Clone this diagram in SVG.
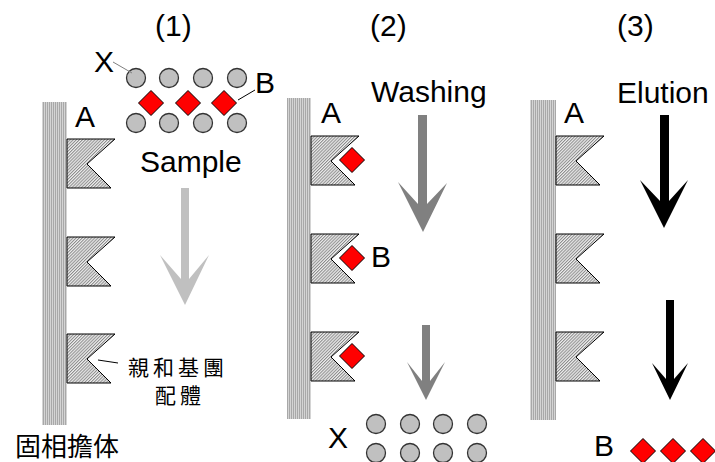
<svg xmlns="http://www.w3.org/2000/svg" width="715" height="462" viewBox="0 0 715 462">
  <defs>
    <!-- vertical stripes of the solid support -->
    <pattern id="stripes" width="2" height="4" patternUnits="userSpaceOnUse">
      <rect width="2" height="4" fill="#d4d4d4"/>
      <rect x="1" width="1" height="4" fill="#a8a8a8"/>
    </pattern>
    <!-- fine diagonal hatch of the ligand flags -->
    <pattern id="hatch" width="2.2" height="2.2" patternUnits="userSpaceOnUse" patternTransform="rotate(45)">
      <rect width="2.2" height="2.2" fill="#eeeeee"/>
      <rect width="1" height="2.2" fill="#8a8a8a"/>
    </pattern>
    <path id="flag" d="M0,0 H48 L20,25 L44,49 H0 Z"/>
    <circle id="bead" r="9.5"/>
    <path id="gem" d="M0,-12.5 L12.5,0 L0,12.5 L-12.5,0 Z"/>
  </defs>
  <style>
    .col { fill: url(#stripes); }
    .flag { fill: url(#hatch); stroke: #000; stroke-width: 1; stroke-linejoin: miter; }
    .bead { fill: #c0c0c0; stroke: #333; stroke-width: 1.3; }
    .gem { fill: #ff0000; stroke: #000; stroke-width: 1; }
    .halo { fill: none; stroke: #fff; stroke-width: 5; }
    .lbl { font-family: "Liberation Sans", Arial, sans-serif; font-size: 30px; fill: #000; }
    .cjk { font-family: "Noto Sans CJK TC", "Noto Sans CJK SC", sans-serif; fill: #000; }
  </style>

  <!-- panel titles -->
  <g id="titles" class="lbl">
    <text x="155" y="36">(1)</text>
    <text x="370" y="36">(2)</text>
    <text x="617" y="36">(3)</text>
  </g>

  <!-- panel 1: sample loading -->
  <g id="support1">
    <rect class="col" x="42" y="102" width="25" height="323"/>
    <text class="cjk" x="15" y="456" font-size="26">固相擔体</text>
  </g>
  <g id="ligands1">
    <use href="#flag" class="flag" x="67" y="139"/>
    <use href="#flag" class="flag" x="67" y="237"/>
    <use href="#flag" class="flag" x="67" y="334"/>
    <text class="lbl" x="75" y="127" font-size="29">A</text>
    <text class="cjk" x="178" y="375" font-size="21" text-anchor="middle" letter-spacing="4">親和基團</text>
    <text class="cjk" x="180" y="403" font-size="21" text-anchor="middle" letter-spacing="4">配體</text>
  </g>
  <g id="sample-mix">
    <use href="#bead" class="bead" x="136" y="78"/>
    <use href="#bead" class="bead" x="169" y="78"/>
    <use href="#bead" class="bead" x="203" y="78"/>
    <use href="#bead" class="bead" x="237" y="78"/>
    <use href="#gem" class="gem" x="151" y="103"/>
    <use href="#gem" class="gem" x="188" y="103"/>
    <use href="#gem" class="gem" x="224" y="103"/>
    <use href="#bead" class="bead" x="136" y="123"/>
    <use href="#bead" class="bead" x="169" y="123"/>
    <use href="#bead" class="bead" x="203" y="123"/>
    <use href="#bead" class="bead" x="237" y="123"/>
    <text class="lbl" x="94" y="72" font-size="29">X</text>
    <text class="lbl" x="255" y="93" font-size="29">B</text>
    <text class="lbl" x="140" y="172" font-size="31">Sample</text>
  </g>

  <!-- panel 2: washing -->
  <g id="support2">
    <rect class="col" x="287" y="98" width="24" height="321"/>
  </g>
  <g id="ligands2">
    <use href="#flag" class="flag" x="311" y="136"/>
    <use href="#flag" class="flag" x="311" y="234"/>
    <use href="#flag" class="flag" x="311" y="332"/>
    <use href="#gem" class="halo" x="352" y="160"/>
    <use href="#gem" class="gem" x="352" y="160"/>
    <use href="#gem" class="halo" x="352" y="258"/>
    <use href="#gem" class="gem" x="352" y="258"/>
    <use href="#gem" class="halo" x="352" y="356"/>
    <use href="#gem" class="gem" x="352" y="356"/>
    <text class="lbl" x="321" y="123" font-size="29">A</text>
    <text class="lbl" x="371" y="267" font-size="29">B</text>
    <text class="lbl" x="371" y="102" font-size="31">Washing</text>
  </g>
  <g id="washed-out">
    <text class="lbl" x="328" y="448" font-size="29">X</text>
    <use href="#bead" class="bead" x="376" y="424"/>
    <use href="#bead" class="bead" x="410" y="424"/>
    <use href="#bead" class="bead" x="443" y="424"/>
    <use href="#bead" class="bead" x="477" y="424"/>
    <use href="#bead" class="bead" x="376" y="453"/>
    <use href="#bead" class="bead" x="410" y="453"/>
    <use href="#bead" class="bead" x="443" y="453"/>
    <use href="#bead" class="bead" x="477" y="453"/>
  </g>

  <!-- panel 3: elution -->
  <g id="support3">
    <rect class="col" x="530" y="100" width="26" height="320"/>
  </g>
  <g id="ligands3">
    <use href="#flag" class="flag" x="556" y="136"/>
    <use href="#flag" class="flag" x="556" y="234"/>
    <use href="#flag" class="flag" x="556" y="332"/>
    <text class="lbl" x="564" y="123" font-size="29">A</text>
    <text class="lbl" x="617" y="103" font-size="31">Elution</text>
  </g>
  <g id="eluted">
    <text class="lbl" x="594" y="456" font-size="29">B</text>
    <use href="#gem" class="gem" x="643" y="451"/>
    <use href="#gem" class="gem" x="673" y="451"/>
    <use href="#gem" class="gem" x="703" y="451"/>
  </g>

  <!-- flow arrows and leader lines -->
  <g id="connectors">
    <path d="M181,188 H189 V279 L209,255 L185,305 L160,255 L181,279 Z" fill="#c0c0c0"/>
    <path d="M418,115 H427 V204 L447,183 L423,232 L398,182 L418,204 Z" fill="#808080"/>
    <path d="M422,325 H430 V381 L445,362 L426,400 L407,362 L422,381 Z" fill="#808080"/>
    <path d="M660,115 H669 V201 L688,180 L664,228 L640,180 L660,201 Z" fill="#000"/>
    <path d="M666,300 H674 V379 L688,363 L670,400 L652,363 L666,379 Z" fill="#000"/>
    <line x1="113" y1="62" x2="132" y2="73" stroke="#808080" stroke-width="1"/>
    <line x1="238" y1="100" x2="255" y2="90" stroke="#000" stroke-width="1"/>
    <line x1="98" y1="360" x2="118" y2="363" stroke="#000" stroke-width="1"/>
  </g>
</svg>
